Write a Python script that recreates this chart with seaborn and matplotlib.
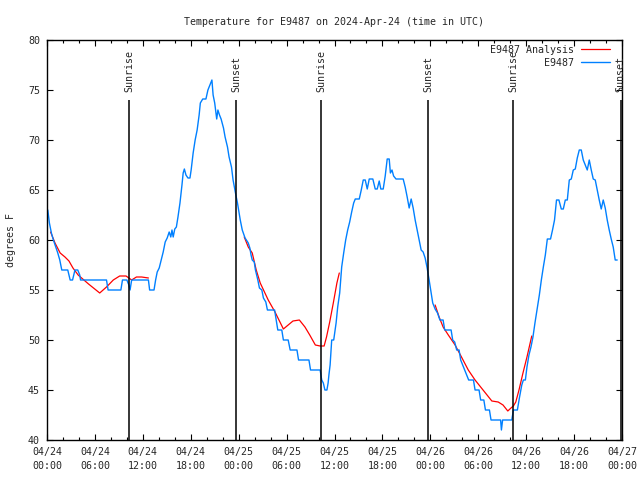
import matplotlib
matplotlib.use("Agg")
import matplotlib.pyplot as plt
from matplotlib.lines import Line2D
import seaborn as sns
import pandas as pd

# ---- data (hours since 2024-04-24 00:00 UTC, degrees F) ----
blue_hours = [0.1, 0.3, 0.55, 0.8, 1.1, 1.35, 1.6, 1.85, 2.6, 2.9, 3.2, 3.5, 3.85, 4.1, 4.2,
              7.45, 7.65, 9.25, 9.45, 10.0, 10.25, 10.4, 10.6, 12.7, 12.85, 13.4, 13.6, 13.8,
              14.05, 14.3, 14.55, 14.8, 15.05, 15.3, 15.5, 15.65, 15.8, 16.0, 16.2, 16.4, 16.65,
              16.9, 17.05, 17.2, 17.4, 17.65, 17.9, 18.05, 18.3, 18.55, 18.8, 19.05, 19.2, 19.5,
              19.9, 20.15, 20.4, 20.65, 20.8, 21.0, 21.25, 21.4, 21.6, 21.8, 22.1, 22.3, 22.6,
              22.8, 23.1, 23.3, 23.6, 23.85, 24.1, 24.2, 24.45, 24.8, 25.2, 25.4, 25.55, 25.7,
              25.95, 26.1, 26.4, 26.6, 26.9, 27.1, 27.4, 27.6, 28.5, 28.7, 28.9, 29.4, 29.6,
              30.2, 30.45, 31.3, 31.5, 32.8, 33.0, 34.2, 34.4, 34.6, 34.8, 35.05, 35.2, 35.3,
              35.45, 35.65, 35.9, 36.2, 36.4, 36.65, 36.9, 37.15, 37.4, 37.65, 37.9, 38.15,
              38.4, 38.6, 39.1, 39.35, 39.6, 39.85, 40.1, 40.35, 40.8, 41.1, 41.35, 41.6, 41.8,
              42.1, 42.35, 42.6, 42.85, 43.0, 43.2, 43.4, 43.7, 44.6, 44.85, 45.1, 45.35, 45.6,
              45.85, 46.1, 46.35, 46.6, 46.85, 47.1, 47.35, 47.6, 47.85, 48.1, 48.3, 48.6, 48.9,
              49.2, 49.6, 49.8, 50.6, 50.8, 51.05, 51.3, 51.6, 51.8, 52.3, 52.8, 53.4, 53.6,
              54.1, 54.3, 54.7, 54.9, 55.4, 55.6, 56.8, 56.9, 57.05, 58.2, 58.4, 58.9, 59.15,
              59.45, 59.65, 59.9, 60.1, 60.35, 60.6, 60.85, 61.1, 61.4, 61.65, 61.9, 62.15,
              62.4, 62.65, 63.05, 63.3, 63.55, 63.8, 64.1, 64.4, 64.65, 64.9, 65.15, 65.4,
              65.65, 65.9, 66.15, 66.4, 66.65, 66.9, 67.15, 67.4, 67.65, 67.9, 68.15, 68.4,
              68.65, 68.9, 69.15, 69.4, 69.65, 69.9, 70.15, 70.4, 70.65, 70.9, 71.15, 71.4]
blue_temps = [63.0, 61.7, 60.7, 60.0, 59.3, 58.7, 58.0, 57.0, 57.0, 56.0, 56.0, 57.0, 57.0, 56.5, 56.0,
              56.0, 55.0, 55.0, 56.0, 56.0, 55.5, 55.0, 56.0, 56.0, 55.0, 55.0, 56.0, 56.8,
              57.2, 58.0, 58.8, 59.8, 60.2, 60.8, 60.3, 61.0, 60.3, 61.1, 61.3, 62.3, 63.7,
              65.5, 66.7, 67.1, 66.5, 66.2, 66.2, 67.0, 68.7, 70.0, 71.0, 72.5, 73.7, 74.1,
              74.1, 75.0, 75.5, 76.0, 74.5, 73.7, 72.1, 73.0, 72.5, 72.1, 71.2, 70.3, 69.3,
              68.3, 67.3, 66.0, 64.7, 63.7, 62.5, 62.0, 61.0, 60.2, 59.7, 59.2, 58.5, 58.0,
              57.8, 57.0, 56.0, 55.2, 55.0, 54.2, 53.8, 53.0, 53.0, 52.0, 51.0, 51.0, 50.0,
              50.0, 49.0, 49.0, 48.0, 48.0, 47.0, 47.0, 46.0, 45.7, 45.0, 45.0, 45.7, 46.5,
              47.5, 50.0, 50.0, 51.7, 53.3, 54.7, 57.3, 58.7, 60.0, 61.0, 61.8, 62.8,
              63.7, 64.1, 64.1, 65.0, 66.0, 66.0, 65.1, 66.1, 66.1, 65.1, 65.1, 65.9, 65.1,
              65.1, 66.4, 68.1, 68.1, 66.7, 67.0, 66.4, 66.1, 66.1, 65.3, 64.3, 63.2, 64.1,
              63.2, 62.0, 61.0, 60.0, 59.0, 58.8, 58.2, 57.2, 56.0, 54.7, 53.7, 53.1, 52.7,
              52.0, 52.0, 51.0, 51.0, 50.0, 49.8, 49.0, 49.0, 48.0, 47.0, 46.0, 46.0, 45.0,
              45.0, 44.0, 44.0, 43.0, 43.0, 42.0, 42.0, 41.0, 42.0, 42.0, 43.0, 43.0, 44.2,
              45.5, 46.0, 46.0, 47.3, 48.5, 49.3, 50.3, 51.7, 53.2, 54.5, 56.0, 57.3,
              58.5, 60.1, 60.1, 61.0, 62.0, 64.0, 64.0, 63.1, 63.1, 64.0, 64.0, 66.0,
              66.1, 67.0, 67.1, 68.2, 69.0, 69.0, 68.0, 67.5, 67.0, 68.0, 67.0, 66.1,
              66.0, 65.0, 64.0, 63.1, 64.0, 63.2, 62.0, 61.0, 60.1, 59.3, 58.0, 58.0]

red1_hours = [0.45, 1.0, 1.65, 2.25, 2.75, 3.25, 3.9, 5.2, 6.6, 7.45, 8.3, 9.1, 9.9, 10.6, 11.2, 11.85, 12.7]
red1_temps = [60.8, 59.7, 58.7, 58.3, 57.9, 57.2, 56.5, 55.6, 54.7, 55.3, 56.0, 56.4, 56.4, 56.0, 56.3, 56.3, 56.2]
red2_hours = [24.7, 25.2, 25.7, 26.2, 26.7, 27.7, 28.55, 29.6, 30.2, 30.8, 31.6, 32.3, 32.9, 33.6,
              34.2, 34.7, 35.0, 35.4, 35.85, 36.3, 36.6]
red2_temps = [60.3, 59.3, 58.7, 57.0, 55.7, 54.0, 52.8, 51.1, 51.5, 51.9, 52.0, 51.3, 50.5, 49.5,
              49.4, 49.4, 50.3, 51.8, 53.7, 55.7, 56.7]
red3_hours = [48.6, 49.1, 49.6, 50.25, 51.1, 51.9, 52.75, 53.6, 54.4, 55.3, 55.7, 56.5, 57.1, 57.7,
              58.1, 58.4, 58.7, 59.1, 59.6, 60.1, 60.7]
red3_temps = [53.5, 52.3, 51.3, 50.5, 49.5, 48.3, 47.0, 46.0, 45.2, 44.3, 43.9, 43.8, 43.5, 42.9,
              43.2, 43.4, 43.8, 45.0, 46.7, 48.3, 50.4]

sun_hours = [10.27, 23.67, 34.3, 47.7, 58.35, 71.85]
sun_names = ["Sunrise", "Sunset", "Sunrise", "Sunset", "Sunrise", "Sunset"]

major_hours = [0, 6, 12, 18, 24, 30, 36, 42, 48, 54, 60, 66, 72]
major_labels = ["04/24\n00:00", "04/24\n06:00", "04/24\n12:00", "04/24\n18:00",
                "04/25\n00:00", "04/25\n06:00", "04/25\n12:00", "04/25\n18:00",
                "04/26\n00:00", "04/26\n06:00", "04/26\n12:00", "04/26\n18:00",
                "04/27\n00:00"]
minor_hours = list(range(0, 73, 2))
y_ticks = [40, 45, 50, 55, 60, 65, 70, 75, 80]

# ---- figure ----
sns.set_style("ticks")
plt.rcParams['font.family'] = ['DejaVu Sans Mono']
FS = 7.2
plt.rcParams['font.size'] = FS

fig = plt.figure(figsize=(6.4, 4.8), dpi=100)
ax = fig.add_axes([47 / 640, 40 / 480, 575 / 640, 400 / 480])

red_df = pd.DataFrame({
    "hour": red1_hours + red2_hours + red3_hours,
    "temp": red1_temps + red2_temps + red3_temps,
    "seg": [1] * len(red1_hours) + [2] * len(red2_hours) + [3] * len(red3_hours),
})
blue_df = pd.DataFrame({"hour": blue_hours, "temp": blue_temps})

RED = "#ff0000"
BLUE = "#0080ff"
sns.lineplot(data=red_df, x="hour", y="temp", units="seg", estimator=None,
             color=RED, lw=0.9, ax=ax, sort=False)
sns.lineplot(data=blue_df, x="hour", y="temp", estimator=None,
             color=BLUE, lw=1.0, ax=ax, sort=False)

ax.vlines(sun_hours, 40, 74.0, color="black", lw=1.1, zorder=3)
for h, n in zip(sun_hours, sun_names):
    ax.text(h, 74.8, n, rotation=90, ha="center", va="bottom", fontsize=FS, clip_on=False)

ax.set_xlim(0, 72)
ax.set_ylim(40, 80)
ax.set_xticks(major_hours)
ax.set_xticklabels(major_labels, fontsize=FS, linespacing=1.55)
ax.set_xticks(minor_hours, minor=True)
ax.set_yticks(y_ticks)
ax.set_yticklabels([str(v) for v in y_ticks], fontsize=FS)
ax.tick_params(which="both", direction="in", top=True, right=True, color="black")
ax.tick_params(which="major", length=4, width=0.8)
ax.tick_params(which="minor", length=2.2, width=0.8)
ax.tick_params(axis="x", which="major", pad=5)
ax.tick_params(axis="y", which="major", pad=5)
for s in ax.spines.values():
    s.set_color("black")
    s.set_linewidth(1.0)

ax.set_xlabel("")
ax.set_ylabel("degrees F", fontsize=FS)
ax.yaxis.set_label_coords(-31 / 575, 0.5)
ax.set_title("Temperature for E9487 on 2024-Apr-24 (time in UTC)", fontsize=FS, pad=11)

handles = [Line2D([], [], color=RED, lw=0.9), Line2D([], [], color=BLUE, lw=1.0)]
ax.legend(handles, ["E9487 Analysis", "E9487"], loc="upper right",
          bbox_to_anchor=(1 - 7 / 575, 1), frameon=False,
          markerfirst=False, handlelength=2.9, handletextpad=0.7, labelspacing=0.3,
          borderaxespad=0.3, borderpad=0.2, fontsize=FS)

fig.savefig("out.png", dpi=100)
